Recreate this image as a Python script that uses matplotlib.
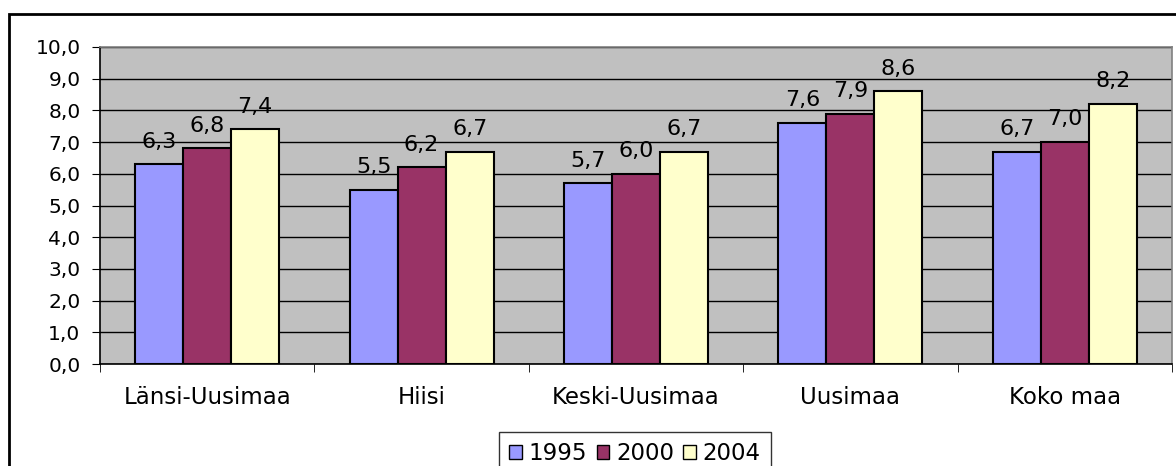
import matplotlib
matplotlib.use("Agg")
import matplotlib.pyplot as plt
import numpy as np
from matplotlib.patches import Rectangle

categories = ["Länsi-Uusimaa", "Hiisi", "Keski-Uusimaa", "Uusimaa", "Koko maa"]
years = ["1995", "2000", "2004"]
v1995 = [6.3, 5.5, 5.7, 7.6, 6.7]
v2000 = [6.8, 6.2, 6.0, 7.9, 7.0]
v2004 = [7.4, 6.7, 6.7, 8.6, 8.2]
colors = ["#9999FF", "#993366", "#FFFFCC"]

plt.rcParams['font.family'] = ['DejaVu Sans']
fs_y = 14.5
fs_lab = 16
fs_x = 16.5
fs_leg = 16.5

fig = plt.figure(figsize=(11.76, 4.66), dpi=100)
ax = fig.add_axes([100/1176, (466-364)/466, (1172-100)/1176, (364-47)/466])
ax.set_facecolor("#C0C0C0")

x = np.arange(len(categories))
w = 0.224
series = [v1995, v2000, v2004]
for i, (vals, c, lab) in enumerate(zip(series, colors, years)):
    pos = x + (i - 1) * w
    bars = ax.bar(pos, vals, width=w, color=c, edgecolor="black", linewidth=1.5,
                  label=lab, zorder=3)
    for b, v in zip(bars, vals):
        ax.annotate(f"{v:.1f}".replace(".", ","),
                    (b.get_x() + b.get_width()/2, b.get_height()),
                    xytext=(0, 12), textcoords="offset points",
                    ha="center", va="baseline", fontsize=fs_lab, zorder=4)

ax.set_xlim(-0.5, len(categories) - 0.5)
ax.set_ylim(0, 10)
yt = np.arange(0, 11, 1.0)
ax.set_yticks(yt)
ax.set_yticklabels([f"{t:.1f}".replace(".", ",") for t in yt], fontsize=fs_y)
ax.yaxis.grid(True, color="black", linewidth=1.0, zorder=0)
ax.set_axisbelow(True)

ax.set_xticks(x)
ax.set_xticklabels(categories, fontsize=fs_x)
ax.tick_params(axis="x", which="major", length=0, pad=16)
ax.set_xticks(np.arange(-0.5, len(categories), 1.0), minor=True)
ax.tick_params(axis="x", which="minor", length=6, direction="out", color="black")
ax.tick_params(axis="y", length=6, direction="out", color="black", pad=8)

for s in ["top", "right"]:
    ax.spines[s].set_color("#808080")
    ax.spines[s].set_linewidth(1.2)
for s in ["left", "bottom"]:
    ax.spines[s].set_color("black")
    ax.spines[s].set_linewidth(1.2)

leg = ax.legend(loc="upper center", bbox_to_anchor=(635/1176, (466-432)/466),
                bbox_transform=fig.transFigure, ncol=3, fontsize=fs_leg, frameon=True,
                fancybox=False, edgecolor="black", handlelength=0.55, handleheight=0.55,
                handletextpad=0.3, columnspacing=0.4, borderpad=0.45, borderaxespad=0)
leg.get_frame().set_linewidth(1.0)
for h in leg.legend_handles:
    h.set_linewidth(1.0)

# outer chart frame
fig.patches.append(Rectangle((9/1176, -0.1), 1.2, (466-14)/466 + 0.1,
                             transform=fig.transFigure, fill=False,
                             edgecolor="black", linewidth=2, clip_on=False))

fig.savefig("out.png", dpi=100)
